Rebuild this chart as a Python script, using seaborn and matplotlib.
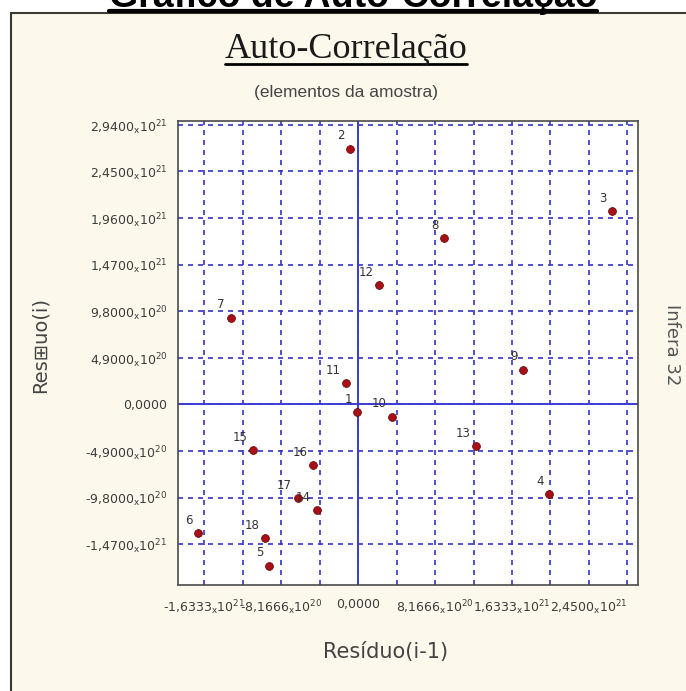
import matplotlib
matplotlib.use("Agg")
import matplotlib.pyplot as plt
from matplotlib.lines import Line2D
from matplotlib.patches import Rectangle
import numpy as np
import pandas as pd
import seaborn as sns

# residuos (em 1e21): x = residuo(i-1), y = residuo(i)
residuos = [-0.007, -0.082, 2.69, 2.03, -0.946, -1.697, -1.353, 0.913, 1.75,
            0.364, -0.13, 0.225, 1.252, -0.44, -1.114, -0.479, -0.64, -0.985, -1.404]
rotulos = [str(i) for i in range(1, 19)]

y_ticks = [-1.47e21, -9.8e20, -4.9e20, 0, 4.9e20, 9.8e20, 1.47e21, 1.96e21, 2.45e21, 2.94e21]
y_mant = ["-1,4700", "-9,8000", "-4,9000", "0,0000", "4,9000", "9,8000",
          "1,4700", "1,9600", "2,4500", "2,9400"]
y_exp = ["21", "20", "20", None, "20", "20", "21", "21", "21", "21"]

x_ticks = [-1.6333e21, -8.1666e20, 0, 8.1666e20, 1.6333e21, 2.45e21]
x_mant = ["-1,6333", "-8,1666", "0,0000", "8,1666", "1,6333", "2,4500"]
x_exp = ["21", "20", None, "20", "21", "21"]
x_minor = [-1.225e21, -4.0833e20, 4.0833e20, 1.225e21, 2.0417e21, 2.8583e21]

titulo = "Gráfico de Auto-Correlação"
titulo_painel = "Auto-Correlação"
subtitulo = "(elementos da amostra)"


def rotulo(m, e):
    if e is None:
        return m
    return m + r"$_\mathregular{x}$" + "10" + r"$^{" + e + "}$"


res = np.array(residuos) * 1e21
df = pd.DataFrame({"anterior": res[:-1], "atual": res[1:], "n": rotulos})

sns.set_style("white")
plt.rcParams["font.family"] = ["DejaVu Sans"]
plt.rcParams["mathtext.default"] = "regular"

W, H = 686, 691
fig = plt.figure(figsize=(W / 100, H / 100), dpi=100)
fig.patch.set_facecolor("white")

creme = "#fcf8ec"
fig.add_artist(Rectangle((11 / W, -0.02), 1.2, 1 - 13 / H + 0.02, transform=fig.transFigure,
                         facecolor=creme, edgecolor="#3a3a30", lw=1.5, zorder=0))

ax = fig.add_axes([178 / W, 1 - 585 / H, 460 / W, 464 / H])
ax.set_facecolor("white")

azul = "#3434c4"
ax.set_xlim(-1.91e21, 2.97e21)
ax.set_ylim(-1.90e21, 2.98e21)
ax.set_xticks(x_ticks)
ax.set_xticks(x_minor, minor=True)
ax.set_yticks(y_ticks)
ax.set_xticklabels([rotulo(m, e) for m, e in zip(x_mant, x_exp)])
ax.set_yticklabels([rotulo(m, e) for m, e in zip(y_mant, y_exp)])
ax.tick_params(axis="both", which="both", direction="inout", length=5, width=1,
               color="#30305a", labelsize=9, labelcolor="#3c3c3c")
ax.tick_params(axis="x", pad=7)
ax.tick_params(axis="y", pad=5)
ax.grid(True, which="both", axis="x", color=azul, lw=1.2, linestyle=(0, (3, 3)))
ax.grid(True, which="major", axis="y", color=azul, lw=1.2, linestyle=(0, (3, 3)))
ax.axhline(0, color="#3b3bd6", lw=1.4, zorder=1)
ax.axvline(0, color="#3b3bd6", lw=1.4, zorder=1)
for s in ax.spines.values():
    s.set_color("#4a4a4a")
    s.set_linewidth(1.2)

sns.scatterplot(data=df, x="anterior", y="atual", ax=ax, s=32, color="#a80f17",
                edgecolor="#5a0000", linewidth=0.5, zorder=3, legend=False)
for _, r in df.iterrows():
    ax.annotate(r["n"], (r["anterior"], r["atual"]), xytext=(-4, 4.5),
                textcoords="offset points", ha="right", va="bottom",
                fontsize=8.5, color="#333333", zorder=4)
ax.set_xlabel("")
ax.set_ylabel("")

# textos da figura
t1 = fig.text(353 / W, 1 - 7 / H, titulo, ha="center", va="baseline", fontsize=27,
              fontweight="bold", family=["Liberation Sans", "DejaVu Sans"], color="black")
t2 = fig.text(346 / W, 1 - 58 / H, titulo_painel, ha="center", va="baseline", fontsize=26,
              family=["Liberation Serif", "DejaVu Serif"], color="#1a1a1a")
fig.text(346 / W, 1 - 92 / H, subtitulo, ha="center", va="center", fontsize=12.5,
         family=["Liberation Sans", "DejaVu Sans"], color="#444444")
fig.text(40 / W, 1 - 345 / H, "Res⊞uo(i)", ha="center", va="center", rotation=90,
         fontsize=14, color="#444444")
fig.text(386 / W, 1 - 652 / H, "Resíduo(i-1)", ha="center", va="center", fontsize=15,
         color="#444444")
fig.text(672 / W, 1 - 345 / H, "Infera 32", ha="center", va="center", rotation=270,
         fontsize=13, color="#555555")

# sublinhados
fig.canvas.draw()
rend = fig.canvas.get_renderer()
for t, yl, lw in [(t1, 11, 3.0), (t2, 64, 2.0)]:
    bb = t.get_window_extent(rend)
    fig.add_artist(Line2D([bb.x0 / W, bb.x1 / W], [1 - yl / H, 1 - yl / H],
                          transform=fig.transFigure, color="black", lw=lw))

fig.savefig("out.png", dpi=100)
